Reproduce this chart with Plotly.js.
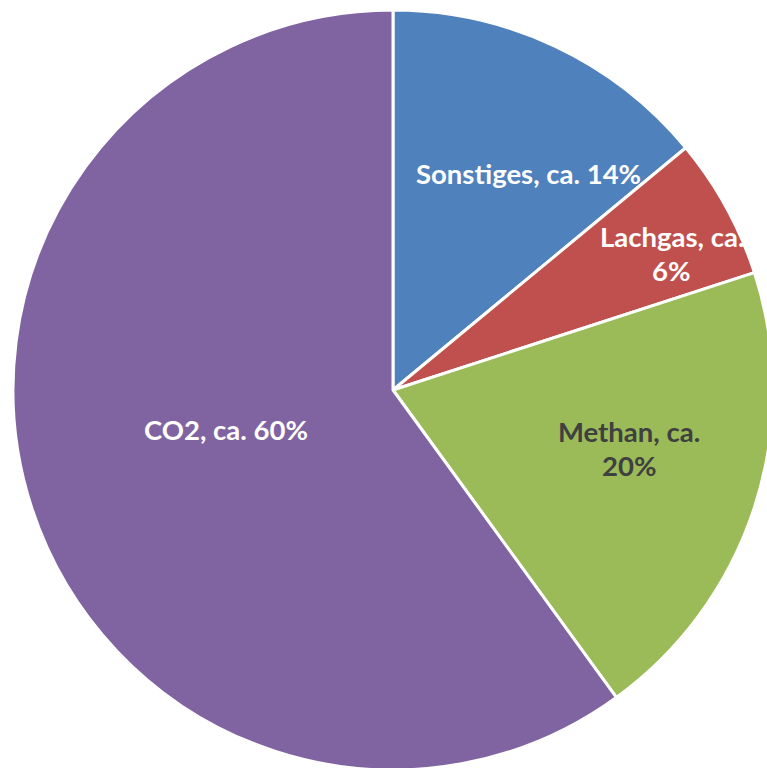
<!DOCTYPE html>
<html>
<head>
<meta charset="utf-8">
<script src="https://cdn.plot.ly/plotly-3.0.1.min.js"></script>
<style>html,body{margin:0;padding:0;overflow:hidden;background:#fff;}#chart{width:786px;height:780px;}</style>
</head>
<body>
<div id="chart"></div>
<script>
var categories = ["Sonstiges", "Lachgas", "Methan", "CO2"];
var values = [14, 6, 20, 60];
var labelLines = [["Sonstiges, ca. 14%"], ["Lachgas, ca.", "6%"], ["Methan, ca.", "20%"], ["CO2, ca. 60%"]];
var colors = ["#4F81BD", "#C0504D", "#9BBB59", "#8064A2"];
var textColors = ["#FFFFFF", "#FFFFFF", "#404040", "#FFFFFF"];
// label anchor positions (paper fraction of the pie's square)
var labelPosX = [0.678, 0.867, 0.8105, 0.2803];
var labelPosY = [0.7855, 0.680, 0.4224, 0.4474];

var trace = {
  type: "pie",
  labels: categories,
  values: values,
  textinfo: "none",
  sort: false,
  direction: "clockwise",
  rotation: 0,
  marker: {colors: colors, line: {color: "#FFFFFF", width: 3}},
  hoverinfo: "none",
  showlegend: false
};
var annotations = [];
var lineGap = 34;
for (var i = 0; i < categories.length; i++) {
  var n = labelLines[i].length;
  for (var j = 0; j < n; j++) {
    annotations.push({
      xref: "paper", yref: "paper",
      x: labelPosX[i], y: labelPosY[i],
      yshift: ((n - 1) / 2 - j) * lineGap,
      text: labelLines[i][j],
      showarrow: false,
      xanchor: "center", yanchor: "middle",
      font: {family: "Lato, 'Open Sans', sans-serif", size: 27.5, color: textColors[i], weight: "bold"}
    });
  }
}
var layout = {
  width: 786, height: 780,
  margin: {l: 13, r: 13, t: 10, b: 10},
  paper_bgcolor: "#FFFFFF",
  showlegend: false,
  annotations: annotations
};
Plotly.newPlot("chart", [trace], layout, {staticPlot: true, displayModeBar: false});
</script>
</body>
</html>
